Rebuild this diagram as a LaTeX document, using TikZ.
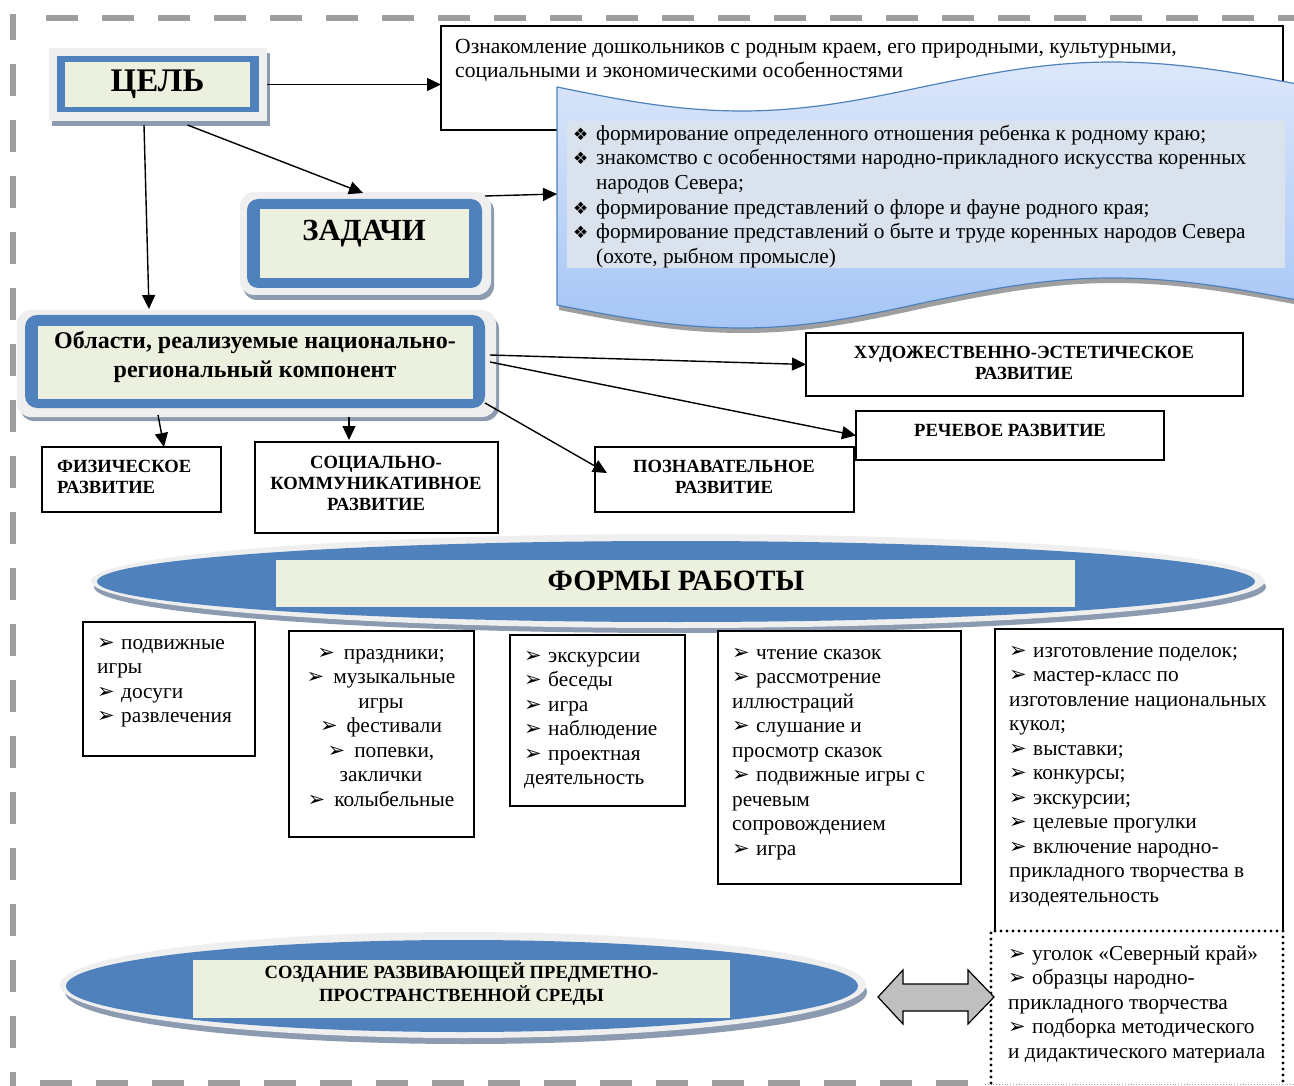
\documentclass[tikz,border=0pt]{standalone}
\usepackage{fontspec}
\setmainfont{Liberation Serif}
\newfontfamily\dv{DejaVu Sans}
\usetikzlibrary{arrows.meta,calc}
\newcommand\fs[2]{\fontsize{#1}{#2}\selectfont}
\newcommand\arw{{\dv\fontsize{21}{21}\selectfont ➢}}
\newcommand\bi{\makebox[24pt][l]{\arw}}
\newcommand\bd{\makebox[23pt][l]{\dv\fontsize{17}{17}\selectfont ❖}}
\definecolor{bl}{HTML}{4F81BD}
\definecolor{gr}{HTML}{EBF1DE}
\definecolor{fr}{HTML}{EFEFEF}
\definecolor{sh}{HTML}{8C9BB0}
\definecolor{bord}{HTML}{9E9E9E}
\definecolor{bantop}{HTML}{DCE7FA}
\definecolor{banbot}{HTML}{A6C6F6}
\definecolor{banin}{HTML}{DAE2EE}
\definecolor{arrg}{HTML}{BFBFBF}
\begin{document}
\begin{tikzpicture}[x=1pt,y=-1pt,
  arr/.style={-{Triangle[length=14pt,width=13pt]}, line width=1.4pt},
  blk/.style={anchor=north west, inner sep=0pt, outer sep=0pt},
  plainbox/.style={blk, draw=black, line width=1.6pt, fill=white},
  body/.style={inner sep=0pt, font=\fs{21.3}{24.5}},
  caps/.style={inner sep=0pt, font=\fs{18.6}{21.3}\bfseries, align=center, anchor=north},
]
\useasboundingbox (0,0) rectangle (1294,1086);
\fill[white] (0,0) rectangle (1294,1086);

% outer border
\draw[bord, line width=6pt, dash pattern=on 32pt off 24pt, dash phase=6pt] (13,14) -- (13,1086);
\draw[bord, line width=6pt, dash pattern=on 32pt off 24pt] (46,18) -- (1294,18);
\draw[bord, line width=6pt, dash pattern=on 32pt off 24pt] (40,1083) -- (985,1083);
\draw[bord, line width=0.8pt, dotted] (985,1084) -- (1294,1084);

% ЦЕЛЬ
\fill[sh] (52,53) rectangle (270,126);
\node[blk, fill=fr, minimum width=218pt, minimum height=73pt] (celo) at (49,48) {};
\node[blk, fill=bl, minimum width=202pt, minimum height=56pt] (celb) at (57,56) {};
\node[blk, fill=gr, minimum width=185pt, minimum height=45pt, font=\fs{33}{36}\bfseries] (celg) at (65,62) {ЦЕЛЬ};

% intro box
\node[plainbox, minimum width=842pt, minimum height=104pt] (intro) at (441,26) {};
\node[body, anchor=north west, align=left, font=\fs{21.6}{24}] (introt) at (455,36.2)
  {\strut Ознакомление дошкольников с родным краем, его природными, культурными,\\
   социальными и экономическими особенностями};

% banner
\fill[gray!75, shift={(2,5)}] (557,87) sin (742,111) cos (927,86) sin (1112,62) cos (1297,84)
  -- (1297,300) sin (1112,278) cos (927,302) sin (742,328) cos (557,305) -- cycle;
\path[draw=bl, line width=1.2pt, top color=bantop, bottom color=banbot]
  (557,87) sin (742,111) cos (927,86) sin (1112,62) cos (1297,84)
  -- (1297,300) sin (1112,278) cos (927,302) sin (742,328) cos (557,305) -- cycle;
\coordinate (banw) at (557,194);
\node[blk, fill=banin, minimum width=718pt, minimum height=147pt] (banin) at (567,121) {};
\node[body, anchor=north west, align=left, font=\fs{21.3}{24.6}] (bant) at (573,122.8)
  {\strut\bd формирование определенного отношения ребенка к родному краю;\\
   \bd знакомство с особенностями народно-прикладного искусства коренных\\
   \hspace*{23pt}народов Севера;\\
   \bd формирование представлений о флоре и фауне родного края;\\
   \bd формирование представлений о быте и труде коренных народов Севера\\
   \hspace*{23pt}(охоте, рыбном промысле)};

% ЗАДАЧИ
\fill[sh, rounded corners=14pt] (243,197) rectangle (494,300);
\node[blk, fill=fr, rounded corners=14pt, minimum width=251pt, minimum height=103pt] (zo) at (240,192) {};
\node[blk, fill=bl, rounded corners=11pt, minimum width=235pt, minimum height=89pt] (zb) at (247,199) {};
\node[blk, fill=gr, minimum width=209pt, minimum height=69pt] (zg) at (260,209) {};
\node[anchor=base, inner sep=0pt, font=\fs{30.7}{34}\bfseries] (zt) at (364,241) {ЗАДАЧИ};

% Области
\fill[sh, rounded corners=14pt] (20,315) rectangle (499,421);
\node[blk, fill=fr, rounded corners=14pt, minimum width=479pt, minimum height=107pt] (oo) at (17,310) {};
\node[blk, fill=bl, rounded corners=12pt, minimum width=460pt, minimum height=93pt] (ob) at (25,315) {};
\node[blk, fill=gr, minimum width=435pt, minimum height=73pt] (og) at (38,326) {};
\node[inner sep=0pt, anchor=north, align=center, font=\fs{24}{29.5}\bfseries] (ot) at (255,327.35)
  {\strut Области, реализуемые национально-\\региональный компонент};

% development boxes
\node[plainbox, minimum width=437pt, minimum height=63pt] (hud) at (806,333) {};
\node[caps] (hudt) at (1024,343.1) {\strut ХУДОЖЕСТВЕННО-ЭСТЕТИЧЕСКОЕ\\РАЗВИТИЕ};
\node[plainbox, minimum width=308pt, minimum height=49pt] (rech) at (856,411) {};
\node[caps] (recht) at (1010,421.1) {\strut РЕЧЕВОЕ РАЗВИТИЕ};
\node[plainbox, minimum width=259pt, minimum height=65pt] (pozn) at (595,447) {};
\node[caps] (poznt) at (724,457.1) {\strut ПОЗНАВАТЕЛЬНОЕ\\РАЗВИТИЕ};
\node[plainbox, minimum width=179pt, minimum height=65pt] (fiz) at (42,447) {};
\node[caps, anchor=north west, align=left] (fizt) at (57,457.1) {\strut ФИЗИЧЕСКОЕ\\РАЗВИТИЕ};
\node[plainbox, minimum width=243pt, minimum height=91pt] (soc) at (255,442) {};
\node[caps] (soct) at (376,453.1) {\strut СОЦИАЛЬНО-\\КОММУНИКАТИВНОЕ\\РАЗВИТИЕ};

% arrows
\draw[arr] (celo.east) -- (intro.west |- celo.east);
\draw[arr] ($(celo.south)+(29.5,4)$) -- ($(zo.north)+(-2.5,1)$);
\draw[arr] ($(celo.south)+(-14,4)$) -- ($(oo.north)+(-107.5,-1)$);
\draw[arr] ($(zo.north east)+(-6,4)$) -- (banw);
\draw[arr] ($(oo.east)+(-6,-8.5)$) -- (hud.west);
\draw[arr] ($(oo.east)+(-6,-1.5)$) -- (rech.west);
\draw[arr] ($(oo.south east)+(-11,-14)$) -- ($(pozn.north west)+(12,26)$);
\draw[arr] ($(oo.south)+(-98.5,-2)$) -- ($(fiz.north)+(32.5,0)$);
\draw[arr] ($(oo.south)+(92.5,0)$) -- ($(soc.north)+(-27.5,-2)$);

% ФОРМЫ РАБОТЫ
\fill[sh] (680,587) ellipse [x radius=586pt, y radius=46pt];
\fill[fr] (678,581) ellipse [x radius=587pt, y radius=47pt];
\fill[bl] (676,581.5) ellipse [x radius=579pt, y radius=40.5pt];
\node[blk, fill=gr, minimum width=799pt, minimum height=47pt] (fg) at (276,560) {};
\node[anchor=base, inner sep=0pt, font=\fs{29.5}{33}\bfseries] (ft) at (676,590) {ФОРМЫ РАБОТЫ};

% forms boxes
\node[plainbox, minimum width=172pt, minimum height=134pt] (b1) at (83,622) {};
\node[body, anchor=north west, align=left] (b1t) at (97,631.85)
  {\strut\bi подвижные\\игры\\\bi досуги\\\bi развлечения};
\node[plainbox, minimum width=185pt, minimum height=206pt] (b2) at (289,631) {};
\node[body, anchor=north, align=center] (b2t) at (381,641.85)
  {\strut\arw\hspace{9pt}праздники;\\\arw\hspace{9pt}музыкальные\\игры\\\arw\hspace{9pt}фестивали\\\arw\hspace{9pt}попевки,\\заклички\\\arw\hspace{9pt}колыбельные};
\node[plainbox, minimum width=175pt, minimum height=171pt] (b3) at (510,635) {};
\node[body, anchor=north west, align=left] (b3t) at (524,644.85)
  {\strut\bi экскурсии\\\bi беседы\\\bi игра\\\bi наблюдение\\\bi проектная\\деятельность};
\node[plainbox, minimum width=243pt, minimum height=253pt] (b4) at (718,631) {};
\node[body, anchor=north west, align=left] (b4t) at (732,641.85)
  {\strut\bi чтение сказок\\\bi рассмотрение\\иллюстраций\\\bi слушание и\\просмотр сказок\\\bi подвижные игры с\\речевым\\сопровождением\\\bi игра};
\node[blk, fill=white, minimum width=288pt, minimum height=302pt] (b5) at (995,629) {};
\draw[line width=1.6pt] (b5.south west) |- (b5.north east) -- (b5.south east);
\node[body, anchor=north west, align=left] (b5t) at (1009,639.85)
  {\strut\bi изготовление поделок;\\\bi мастер-класс по\\изготовление национальных\\кукол;\\\bi выставки;\\\bi конкурсы;\\\bi экскурсии;\\\bi целевые прогулки\\\bi включение народно-\\прикладного творчества в\\изодеятельность};

% dotted box
\node[blk, minimum width=292pt, minimum height=152pt] (dot) at (991,931) {};
\draw[line width=3.2pt, line cap=round, dash pattern=on 0pt off 6pt]
  (dot.south west) -- (dot.north west) -- (dot.north east) -- (dot.south east);
\node[body, anchor=north west, align=left] (dott) at (1008,942.85)
  {\strut\bi уголок «Северный край»\\\bi образцы народно-\\прикладного творчества\\\bi подборка методического\\и дидактического материала};

% СОЗДАНИЕ
\fill[sh] (466,992) ellipse [x radius=401pt, y radius=52pt];
\fill[fr] (463,985) ellipse [x radius=403pt, y radius=53pt];
\fill[bl] (462,986) ellipse [x radius=396pt, y radius=46pt];
\node[blk, fill=gr, minimum width=537pt, minimum height=58pt] (sg) at (193,960) {};
\node[caps] (st) at (461.5,962.1) {\strut СОЗДАНИЕ РАЗВИВАЮЩЕЙ ПРЕДМЕТНО-\\ПРОСТРАНСТВЕННОЙ СРЕДЫ};

% double arrow
\draw[fill=arrg, line width=1.2pt, line join=miter]
  (878,997) -- (903,970) -- (903,984) -- (968,984) -- (968,970) -- (994,997)
  -- (968,1024) -- (968,1011) -- (903,1011) -- (903,1024) -- cycle;
\end{tikzpicture}
\end{document}
